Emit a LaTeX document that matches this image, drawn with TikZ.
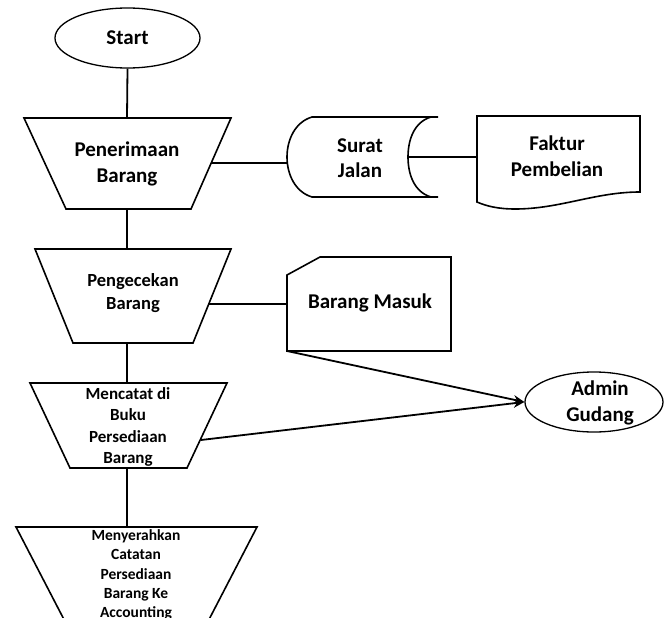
\documentclass[tikz,border=0pt]{standalone}
\usepackage{fontspec}
\setmainfont{Carlito}
\usetikzlibrary{shapes.geometric,arrows.meta}
\tikzset{
  outline/.style={draw=black, line width=1.6pt, line join=miter},
  conn/.style={draw=black, line width=1.8pt},
  arr/.style={draw=black, line width=1.8pt, -{Stealth[length=11pt,width=9pt]}},
  oval/.style={draw=black, line width=1.3pt, ellipse, inner sep=0pt},
  lbl/.style={align=center, inner sep=0pt, font=\bfseries\fontsize{21}{25.5}\selectfont},
  lblm/.style={align=center, inner sep=0pt, font=\bfseries\fontsize{18.5}{23}\selectfont},
  lbls/.style={align=center, inner sep=0pt, font=\bfseries\fontsize{17}{21.5}\selectfont},
  lblxs/.style={align=center, inner sep=0pt, font=\bfseries\fontsize{15.5}{19.3}\selectfont},
}
\begin{document}
\begin{tikzpicture}[x=1pt, y=-1pt]
\useasboundingbox (0,0) rectangle (664,618);
\clip (0,0) rectangle (664,618);
\fill[white] (0,0) rectangle (664,618);

% Start
\node[oval, minimum width=145pt, minimum height=60pt, lbl] (start) at (127.5,38) {Start};

% Trapezoid 1: Penerimaan Barang
\draw[outline] (24,118) -- (231,118) -- (191,209) -- (66,209) -- cycle;
\coordinate (t1top) at (127,118);
\coordinate (t1bot) at (127,209);
\coordinate (t1right) at (211,163);
\node[lbl] (t1) at (127,164) {Penerimaan\\Barang};

% Trapezoid 2: Pengecekan Barang
\draw[outline] (35,249) -- (231,249) -- (193,343) -- (73,343) -- cycle;
\coordinate (t2top) at (127,249);
\coordinate (t2bot) at (127,343);
\coordinate (t2right) at (209,304);
\node[lblm] (t2) at (133,293) {Pengecekan\\Barang};

% Trapezoid 3: Mencatat
\draw[outline] (30,383) -- (227,383) -- (187,468) -- (70,468) -- cycle;
\coordinate (t3top) at (127,383);
\coordinate (t3bot) at (127,468);
\coordinate (t3right) at (201,440);
\node[lbls] (t3) at (128,427) {Mencatat di\\Buku\\Persediaan\\Barang};

% Trapezoid 4: Menyerahkan
\draw[outline] (16,527) -- (257,527) -- (188,660) -- (85,660) -- cycle;
\coordinate (t4top) at (127,527);
\node[lblxs] (t4) at (136,575) {Menyerahkan\\Catatan\\Persediaan\\Barang Ke\\Accounting};

% Surat Jalan (stored data)
\draw[outline] (438,117) -- (312,117) .. controls (295,122) and (287,140) .. (287,157)
  .. controls (287,174) and (295,192) .. (312,197) -- (438,197);
\draw[outline] (431,117) .. controls (414,122) and (408,140) .. (408,157)
  .. controls (408,174) and (414,192) .. (431,197);
\coordinate (sjleft) at (287,163);
\coordinate (sjright) at (408,157);
\node[lbl] (sj) at (360,158) {Surat\\Jalan};

% Faktur Pembelian (document)
\draw[outline] (477,116) -- (640,116) -- (640,192)
  .. controls (595,192) and (560,209) .. (515,209)
  .. controls (498,209) and (486,206) .. (477,202) -- cycle;
\coordinate (fpleft) at (477,157);
\node[lbl] (fp) at (557,156) {Faktur\\Pembelian};

% Barang Masuk (card)
\draw[outline] (287,275) -- (320,257) -- (451,257) -- (451,351) -- (287,351) -- cycle;
\coordinate (bmleft) at (287,304);
\coordinate (bmcorner) at (287,351);
\node[lbl] (bm) at (370,303) {Barang Masuk};

% Admin Gudang
\node[oval, minimum width=138pt, minimum height=60pt] (ag) at (594,402) {};
\node[lbl] (agt) at (600,403) {Admin\\Gudang};

% Connectors
\draw[conn] (start.south) -- (t1top);
\draw[conn] (t1bot) -- (t2top);
\draw[conn] (t2bot) -- (t3top);
\draw[conn] (t3bot) -- (t4top);
\draw[conn] (t1right) -- (sjleft);
\draw[conn] (sjright) -- (fpleft);
\draw[conn] (t2right) -- (bmleft);
\draw[arr] (bmcorner) -- (ag.west);
\draw[arr] (t3right) -- (ag.west);
\end{tikzpicture}
\end{document}
